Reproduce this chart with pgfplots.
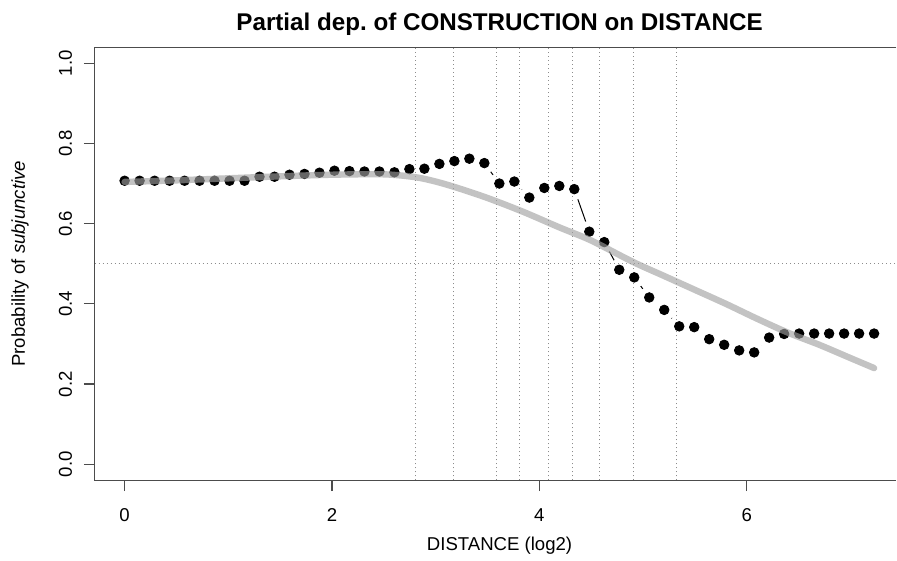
\documentclass[border=0pt]{standalone}
\usepackage{fontspec}
\setmainfont{Liberation Sans}
\usepackage{pgfplots}
\usepackage{pgfplotstable}
\pgfplotsset{compat=1.18}
\pgfplotstableread{
x y
0.0000 0.707
0.1446 0.707
0.2892 0.707
0.4337 0.707
0.5783 0.707
0.7229 0.707
0.8675 0.707
1.0121 0.707
1.1566 0.707
1.3012 0.717
1.4458 0.717
1.5904 0.722
1.7350 0.724
1.8795 0.727
2.0241 0.732
2.1687 0.731
2.3133 0.730
2.4579 0.730
2.6024 0.728
2.7470 0.736
2.8916 0.737
3.0362 0.749
3.1808 0.756
3.3253 0.762
3.4699 0.751
3.6145 0.700
3.7591 0.705
3.9037 0.665
4.0482 0.689
4.1928 0.694
4.3374 0.686
4.4820 0.580
4.6266 0.554
4.7711 0.485
4.9157 0.466
5.0603 0.416
5.2049 0.385
5.3495 0.344
5.4940 0.342
5.6386 0.312
5.7832 0.298
5.9278 0.284
6.0724 0.279
6.2169 0.316
6.3615 0.325
6.5061 0.326
6.6507 0.326
6.7953 0.326
6.9398 0.326
7.0844 0.326
7.2290 0.326
}\dots
\pgfplotstableread{
x y
0.0 0.704
0.5 0.708
1.0 0.713
1.5 0.718
2.0 0.722
2.5 0.723
2.8 0.716
3.0 0.705
3.2 0.690
3.5 0.664
3.84 0.630
4.2 0.590
4.5 0.558
4.9 0.505
5.2 0.470
5.5 0.435
5.8 0.400
6.1 0.363
6.4 0.328
6.7 0.298
7.0 0.265
7.229 0.240
}\curve
\definecolor{boxc}{gray}{0.3}
\definecolor{dotc}{gray}{0.55}
\definecolor{curvec}{RGB}{160,160,160}
\frenchspacing
\begin{document}
\begin{tikzpicture}
\begin{axis}[
  at={(47.35pt,37.65pt)}, anchor=south west,
  scale only axis, width=401.15pt, height=216.6pt,
  xmin=-0.289, xmax=7.444, ymin=-0.04, ymax=1.0393,
  axis line style={draw=none},
  tick align=outside, major tick length=5.35pt,
  xtick={0,2,4,6}, ytick={0,0.2,0.4,0.6,0.8,1.0},
  xtick pos=left, ytick pos=left,
  tick style={boxc, line width=0.6pt},
  minor tick num=0,
  /pgf/number format/assume math mode=true,
  yticklabel={\pgfmathprintnumber[fixed,fixed zerofill,precision=1]{\tick}},
  xticklabel={\pgfmathprintnumber{\tick}},
  ticklabel style={font=\fontsize{9.3}{11}\selectfont},
  xticklabel style={anchor=base},
  yticklabel style={rotate=90, anchor=base},
  xticklabel shift=15pt,
  yticklabel shift=6pt,
  clip=false,
  clip marker paths=true,
  gridline/.style={dotc, line width=0.5pt, dash pattern=on 0.5pt off 1.5pt, mark=none, forget plot},
]
\addplot[black, line width=0.5pt, mark=none] table[x=x,y=y] {\dots};
\addplot[white, only marks, mark=*, mark size=5.2pt, mark options={white, fill=white}] table[x=x,y=y] {\dots};
\addplot[gridline] coordinates {(-0.289,0.5) (7.444,0.5)};
\addplot[gridline] coordinates {(2.807,-0.04) (2.807,1.0393)};
\addplot[gridline] coordinates {(3.170,-0.04) (3.170,1.0393)};
\addplot[gridline] coordinates {(3.585,-0.04) (3.585,1.0393)};
\addplot[gridline] coordinates {(3.807,-0.04) (3.807,1.0393)};
\addplot[gridline] coordinates {(4.087,-0.04) (4.087,1.0393)};
\addplot[gridline] coordinates {(4.322,-0.04) (4.322,1.0393)};
\addplot[gridline] coordinates {(4.585,-0.04) (4.585,1.0393)};
\addplot[gridline] coordinates {(4.907,-0.04) (4.907,1.0393)};
\addplot[gridline] coordinates {(5.322,-0.04) (5.322,1.0393)};
\addplot[black, only marks, mark=*, mark size=2.4pt, mark options={black, fill=black}] table[x=x,y=y] {\dots};
\addplot[smooth, curvec, line width=3.2pt, draw opacity=0.63, line cap=round, mark=none] table[x=x,y=y] {\curve};
\draw[boxc, line width=0.6pt] (rel axis cs:1,1) -- (rel axis cs:0,1) -- (rel axis cs:0,0) -- (rel axis cs:1,0);
\end{axis}
\node[anchor=base, font=\fontsize{12.1}{14}\selectfont\bfseries] at (249.95pt,262.75pt) {Partial dep. of CONSTRUCTION on DISTANCE};
\node[anchor=base, font=\fontsize{9.3}{11}\selectfont] at (249.95pt,2.7pt) {DISTANCE (log2)};
\node[anchor=base, rotate=90, font=\fontsize{9.3}{11}\selectfont] at (12.5pt,146pt) {Probability of \textit{subjunctive}};
\path (0,0) rectangle (448.5pt,278pt);
\end{tikzpicture}
\end{document}
